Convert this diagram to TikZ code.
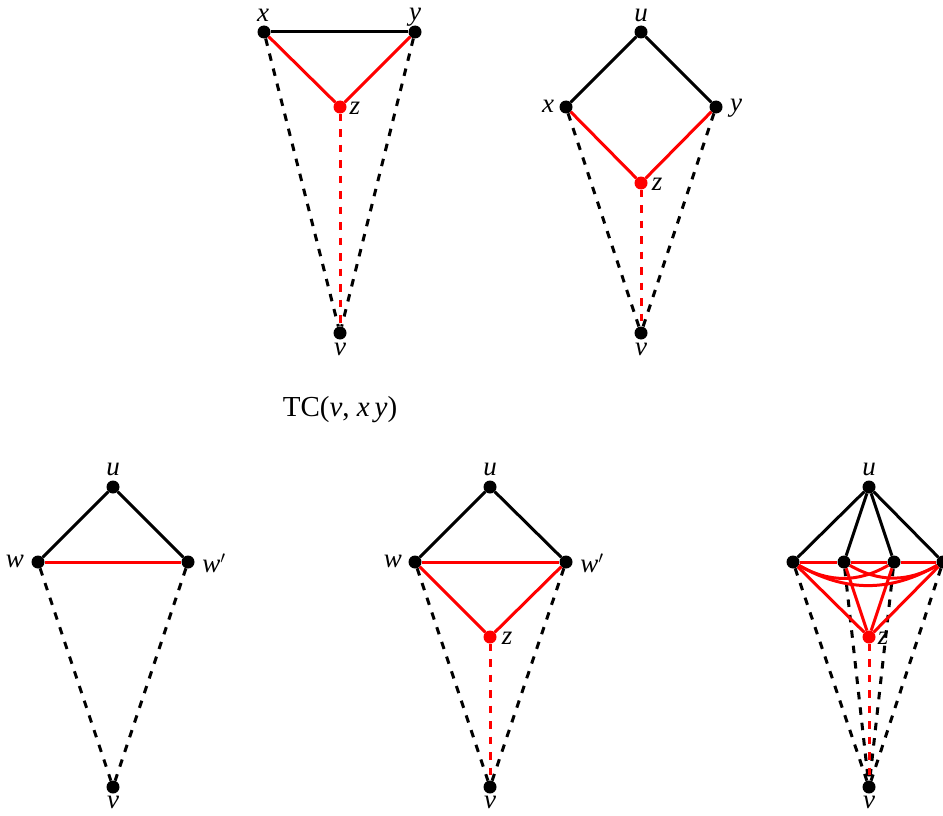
\documentclass[tikz,border=0pt]{standalone}
\usepackage{fontspec}
\setmainfont{Liberation Serif}
\begin{document}
\begin{tikzpicture}[x=1pt,y=-1pt,
  dot/.style={circle,fill=black,inner sep=0pt,minimum size=13pt},
  rdot/.style={dot,fill=red},
  edge/.style={line width=3pt},
  redge/.style={edge,red},
  dedge/.style={edge,dash pattern=on 7.5pt off 8pt},
  rdedge/.style={dedge,red},
  lab/.style={font=\fontsize{27}{32}\selectfont\itshape,inner sep=0pt},
  captext/.style={font=\fontsize{29}{34}\selectfont,inner sep=0pt}]
\useasboundingbox (0,0) rectangle (943,816);
% graph A
\node[dot] (x1) at (264,32) {};
\node[dot] (y1) at (415,32) {};
\node[rdot] (z1) at (340,107) {};
\node[dot] (v1) at (340,333) {};
\draw[dedge] (x1) -- (v1);
\draw[dedge] (y1) -- (v1);
\draw[rdedge] (z1) -- (v1);
\draw[edge] (x1) -- (y1);
\draw[redge] (x1) -- (z1);
\draw[redge] (y1) -- (z1);
\node[lab] (lx1) at (263,15) {x};
\node[lab] (ly1) at (415,17) {y};
\node[lab] (lz1) at (355,108) {z};
\node[lab] (lv1) at (340,349) {v};
% graph B
\node[dot] (u2) at (641,32) {};
\node[dot] (x2) at (566,107) {};
\node[dot] (y2) at (716,107) {};
\node[rdot] (z2) at (641,183) {};
\node[dot] (v2) at (641,333) {};
\draw[dedge] (x2) -- (v2);
\draw[dedge] (y2) -- (v2);
\draw[rdedge] (z2) -- (v2);
\draw[edge] (u2) -- (x2);
\draw[edge] (u2) -- (y2);
\draw[redge] (x2) -- (z2);
\draw[redge] (y2) -- (z2);
\node[lab] (lu2) at (641,15) {u};
\node[lab] (lx2) at (548,106) {x};
\node[lab] (ly2) at (736,108) {y};
\node[lab] (lz2) at (657,184) {z};
\node[lab] (lv2) at (641,349) {v};
% caption
\node[captext] (captxt) at (340,410) {TC(\textit{v}, \textit{x\,y})};
% graph C
\node[dot] (u3) at (113,487) {};
\node[dot] (w3) at (38,562) {};
\node[dot] (wp3) at (188,562) {};
\node[dot] (v3) at (113,787) {};
\draw[dedge] (w3) -- (v3);
\draw[dedge] (wp3) -- (v3);
\draw[edge] (u3) -- (w3);
\draw[edge] (u3) -- (wp3);
\draw[redge] (w3) -- (wp3);
\node[lab] (lu3) at (113,469) {u};
\node[lab] (lw3) at (15,561) {w};
\node[lab] (lwp3) at (214,563) {w$'$};
\node[lab] (lv3) at (113,802) {v};
% graph D
\node[dot] (u4) at (490,487) {};
\node[dot] (w4) at (415,562) {};
\node[dot] (wp4) at (566,562) {};
\node[rdot] (z4) at (490,637) {};
\node[dot] (v4) at (490,787) {};
\draw[dedge] (w4) -- (v4);
\draw[dedge] (wp4) -- (v4);
\draw[rdedge] (z4) -- (v4);
\draw[edge] (u4) -- (w4);
\draw[edge] (u4) -- (wp4);
\draw[redge] (w4) -- (wp4);
\draw[redge] (w4) -- (z4);
\draw[redge] (wp4) -- (z4);
\node[lab] (lu4) at (490,469) {u};
\node[lab] (lw4) at (393,561) {w};
\node[lab] (lwp4) at (592,563) {w$'$};
\node[lab] (lz4) at (507,638) {z};
\node[lab] (lv4) at (490,802) {v};
% graph E
\node[dot] (u5) at (869,487) {};
\node[dot] (a5) at (793,562) {};
\node[dot] (b5) at (844,562) {};
\node[dot] (c5) at (894,562) {};
\node[dot] (d5) at (943,562) {};
\node[rdot] (z5) at (869,637) {};
\node[dot] (v5) at (869,787) {};
\foreach \n in {a5,b5,c5,d5} {\draw[dedge] (\n) -- (v5);}
\draw[rdedge] (z5) -- (v5);
\foreach \n in {a5,b5,c5,d5} {\draw[edge] (u5) -- (\n);}
\draw[redge] (a5) -- (b5);
\draw[redge] (b5) -- (c5);
\draw[redge] (c5) -- (d5);
\draw[redge] (a5) to[bend right=30] (c5);
\draw[redge] (b5) to[bend right=30] (d5);
\draw[redge] (a5) to[bend right=30] (d5);
\foreach \n in {a5,b5,c5,d5} {\draw[redge] (\n) -- (z5);}
\node[lab] (lu5) at (869,469) {u};
\node[lab] (lz5) at (883,638) {z};
\node[lab] (lv5) at (869,802) {v};
\end{tikzpicture}
\end{document}
